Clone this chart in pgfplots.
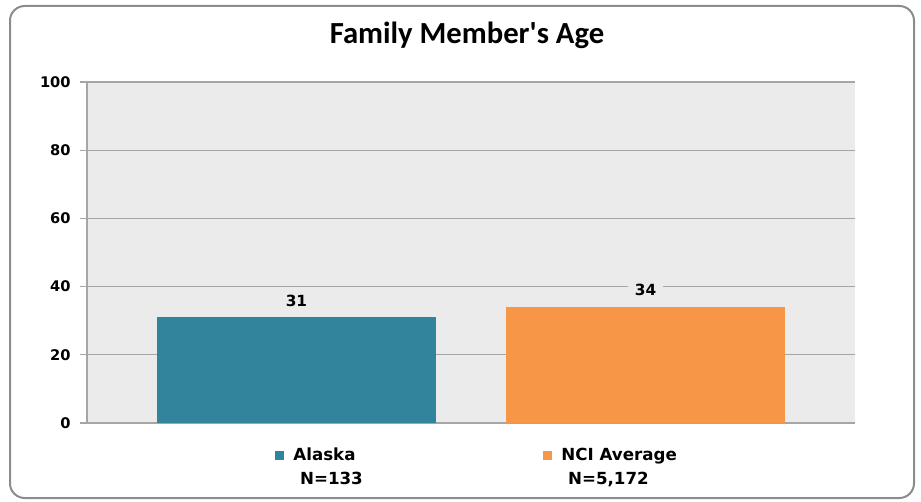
\documentclass[border=0pt]{standalone}
\usepackage{fontspec}
\usepackage{pgfplots}
\pgfplotsset{compat=1.18}
\newfontfamily\verd{DejaVu Sans}
\newfontfamily\calib{Carlito}
\definecolor{alaska}{RGB}{49,132,155}
\definecolor{nci}{RGB}{247,150,70}
\definecolor{plotbg}{RGB}{235,235,235}
\definecolor{gridc}{RGB}{166,166,166}
\definecolor{framec}{RGB}{140,140,140}
\begin{document}
\begin{tikzpicture}
\path[use as bounding box] (0,0) rectangle (690.75pt,375.75pt);
\draw[framec, line width=1.5pt, rounded corners=11pt] (7.5pt,2.25pt) rectangle (685.5pt,371.25pt);
\node[font=\calib\bfseries\fontsize{23}{27}\selectfont] at (350.25pt,349pt) {Family Member's Age};
\begin{axis}[
  at={(65.25pt,58.5pt)}, anchor=south west,
  width=576pt, height=255.75pt, scale only axis,
  axis background/.style={fill=plotbg},
  ybar, bar width=0.8, bar shift=0pt,
  xmin=-0.6, xmax=1.6, ymin=0, ymax=100,
  ytick={0,20,...,100}, xtick=\empty,
  axis x line*=bottom, axis y line*=left,
  axis line style={gridc, line width=0.9pt},
  ymajorgrids, major grid style={gridc, line width=0.9pt},
  tick align=outside, major tick length=5.25pt,
  tick style={gridc, line width=0.9pt},
  /pgf/number format/assume math mode=true,
  yticklabel style={font=\verd\bfseries\fontsize{11}{13}\selectfont, xshift=-3.5pt},
  nodes near coords,
  nodes near coords style={font=\verd\bfseries\fontsize{11.5}{13}\selectfont, fill=plotbg, inner xsep=5pt, inner ysep=1pt, yshift=7pt, text=black},
  legend columns=2,
  legend style={at={(0.508,-0.056)}, anchor=north, draw=none, fill=none,
    font=\verd\bfseries\fontsize{12.5}{18}\selectfont,
    cells={align=left},
    /tikz/every odd column/.append style={column sep=5pt},
    /tikz/every even column/.append style={column sep=133pt}},
  legend image code/.code={\fill[#1] (0pt,5pt) rectangle (7pt,12pt);},
]
\addplot[fill=alaska, draw=none] coordinates {(0,31)};
\addlegendentry{Alaska\\ \hspace*{5pt}N=133}
\addplot[fill=nci, draw=none] coordinates {(1,34)};
\addlegendentry{NCI Average\\ \hspace*{5pt}N=5,172}
\end{axis}
\end{tikzpicture}
\end{document}
